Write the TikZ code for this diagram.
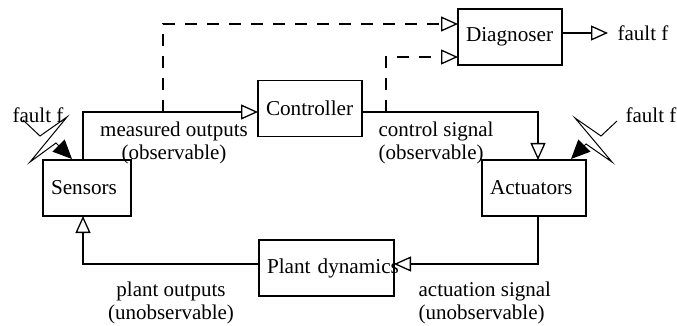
\documentclass[tikz,border=0pt]{standalone}
\usepackage{fontspec}
\setmainfont{Liberation Serif}
\usetikzlibrary{arrows.meta}

\begin{document}
\begin{tikzpicture}[x=1pt, y=-1pt, line width=1.3pt]
\tikzstyle{blk}=[rectangle, draw, fill=white, inner ysep=0pt, inner xsep=8pt, outer sep=0pt,
                        align=left, minimum height=56pt, font = \fontsize{21.2}{23}\selectfont]
\tikzstyle{txt}=[inner sep=0pt, align=center, font = \fontsize{21}{23.5}\selectfont]
\tikzstyle{opn}=[-{Triangle[open, fill=white, length=17pt, width=15pt]}]
\tikzstyle{bolt}=[-{Triangle[length=19pt, width=17pt]}, line width=1pt]
\tikzstyle{dsh}=[opn, dash pattern=on 12pt off 10pt]
\useasboundingbox (0,0) rectangle (677,326);
	\node[blk, text width=88pt] (D) at (510,37){Diagnoser};
	\node[blk, text width=88pt] (C) at (310,108.5){Controller};
	\node[blk, text width=72pt] (S) at (87,188){Sensors};
	\node[blk, text width=88pt] (A) at (534,188){Actuators};
	\node[blk, text width=119pt] (P) at (326.5,268){\mbox{Plant dynamics}};
	\node[txt] (mo) at (174,143){measured outputs\\(observable)};
	\node[txt, align=left, anchor=west] (cs) at (378,143){control signal\\(observable)};
	\node[txt] (po) at (171,303){plant outputs\\(unobservable)};
	\node[txt, align=left, anchor=west] (as) at (418,303){actuation signal\\(unobservable)};
	\node[txt, anchor=west] (f1) at (617,33){fault f};
	\node[txt, anchor=west] (f2) at (12,115){fault f};
	\node[txt, anchor=west] (f3) at (625,115){fault f};
	\coordinate (a) at (83,112);
	\coordinate (b) at (163,112);
	\coordinate (c) at (163,24);
	\coordinate (d) at (386,112);
	\coordinate (e) at (386,57);
	\coordinate (g) at (538,112);
	\coordinate (h) at (83,264);
	\coordinate (k) at (538,264);
	\coordinate (o) at (608,33);
\draw[opn] (S.north -| a)--(a)--(C.west |- a);
\draw[opn] (C.east |- g)--(g)--(A.north -| g);
\draw[opn] (A.south -| k)--(k)--(P.east |- k);
\draw[opn] (P.west |- h)--(h)--(S.south -| h);
\draw[dsh] (b)--(c)--(D.west |- c);
\draw[dsh] (d)--(e)--(D.west |- e);
\draw[opn] (D.east |- o)--(o);
\draw[bolt] (23,120)--(40,136)--(67,117)--(30,162)--(56,143)--(72,159);
\draw[bolt] (617,121)--(601,136)--(575,118)--(612,162)--(586,144)--(571,159);
\end{tikzpicture}
\end{document}
